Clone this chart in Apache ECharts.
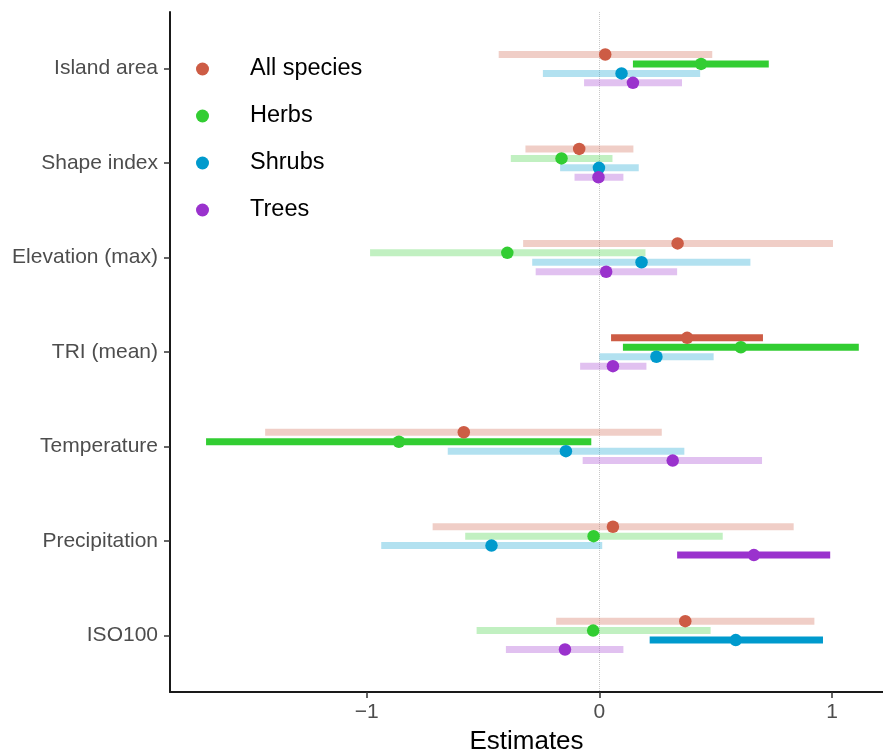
<!DOCTYPE html>
<html>
<head>
<meta charset="utf-8">
<script src="https://cdn.jsdelivr.net/npm/echarts@6/dist/echarts.min.js"></script>
<style>
  html, body { margin: 0; padding: 0; background: #fff; }
  #chart { width: 883px; height: 752px; }
</style>
</head>
<body>
<div id="chart"></div>
<script>
const categories = ['Island area', 'Shape index', 'Elevation (max)', 'TRI (mean)', 'Temperature', 'Precipitation', 'ISO100']
const groups = ['All species', 'Herbs', 'Shrubs', 'Trees']
const groupColors = ['#cd5c45', '#32cd32', '#009acd', '#9a32cd']
const xTicks = [-1, 0, 1]

// estimates and confidence limits, one array per group
const estAll = [0.025, -0.087, 0.336, 0.377, -0.583, 0.058, 0.369]
const lowAll = [-0.433, -0.318, -0.328, 0.050, -1.437, -0.717, -0.186]
const highAll = [0.485, 0.146, 1.004, 0.703, 0.268, 0.835, 0.924]
const sigAll = [0, 0, 0, 1, 0, 0, 0]

const estHerbs = [0.437, -0.163, -0.396, 0.608, -0.862, -0.025, -0.027]
const lowHerbs = [0.144, -0.381, -0.986, 0.101, -1.691, -0.577, -0.528]
const highHerbs = [0.728, 0.056, 0.198, 1.115, -0.035, 0.530, 0.478]
const sigHerbs = [1, 0, 0, 1, 1, 0, 0]

const estShrubs = [0.095, -0.002, 0.181, 0.245, -0.144, -0.464, 0.586]
const lowShrubs = [-0.243, -0.169, -0.289, 0.0, -0.652, -0.938, 0.216]
const highShrubs = [0.433, 0.169, 0.649, 0.491, 0.365, 0.012, 0.961]
const sigShrubs = [0, 0, 0, 0, 0, 0, 1]

const estTrees = [0.144, -0.004, 0.029, 0.058, 0.315, 0.664, -0.148]
const lowTrees = [-0.066, -0.107, -0.274, -0.083, -0.072, 0.334, -0.402]
const highTrees = [0.355, 0.103, 0.334, 0.202, 0.699, 0.992, 0.103]
const sigTrees = [0, 0, 0, 0, 0, 1, 0]

const est = [estAll, estHerbs, estShrubs, estTrees]
const low = [lowAll, lowHerbs, lowShrubs, lowTrees]
const high = [highAll, highHerbs, highShrubs, highTrees]
const sig = [sigAll, sigHerbs, sigShrubs, sigTrees]
const dodge = [-0.15, -0.05, 0.05, 0.15]

const font = 'Liberation Sans, Arial, sans-serif'

const chart = echarts.init(document.getElementById('chart'))

const series = []
groups.forEach((g, gi) => {
  const off = dodge[gi]
  const color = groupColors[gi]
  series.push({
    name: g,
    type: 'custom',
    z: 2,
    itemStyle: { color },
    encode: { x: [0, 1], y: 2 },
    data: categories.map((c, i) => [low[gi][i], high[gi][i], i + off, sig[gi][i]]),
    renderItem(params, api) {
      const y = api.value(2)
      const p1 = api.coord([api.value(0), y])
      const p2 = api.coord([api.value(1), y])
      const h = 7
      return {
        type: 'rect',
        shape: { x: p1[0], y: p1[1] - h / 2, width: p2[0] - p1[0], height: h },
        style: { fill: color, opacity: api.value(3) ? 1 : 0.3 }
      }
    }
  })
})
groups.forEach((g, gi) => {
  const s = {
    name: g,
    type: 'scatter',
    z: 3,
    symbol: 'circle',
    symbolSize: 12.5,
    itemStyle: { color: groupColors[gi], opacity: 1 },
    data: categories.map((c, i) => [est[gi][i], i + dodge[gi]])
  }
  if (gi === 0) {
    s.markLine = {
      silent: true,
      symbol: 'none',
      label: { show: false },
      z: 1,
      lineStyle: { color: '#c8c8c8', type: 'dotted', width: 1 },
      data: [{ xAxis: 0 }]
    }
  }
  series.push(s)
})

chart.setOption({
  animation: false,
  backgroundColor: '#fff',
  grid: { left: 170, right: 0, top: 12, bottom: 60, outerBoundsMode: 'none' },
  legend: {
    orient: 'vertical',
    left: 191,
    top: 52,
    itemWidth: 13,
    itemHeight: 13,
    itemGap: 23,
    icon: 'circle',
    data: groups,
    textStyle: { fontSize: 23.5, color: '#000', fontFamily: font, padding: [0, 0, 0, 36] }
  },
  xAxis: {
    type: 'value',
    min: -1.846,
    max: 1.219,
    name: 'Estimates',
    nameLocation: 'middle',
    nameGap: 37,
    nameTextStyle: { fontSize: 26, color: '#000', fontFamily: font },
    splitLine: { show: false },
    axisLine: { show: true, onZero: false, lineStyle: { color: '#1a1a1a', width: 2 } },
    axisTick: { show: true, customValues: xTicks, length: 6, lineStyle: { color: '#333', width: 1.5 } },
    axisLabel: {
      customValues: xTicks,
      margin: 10,
      fontSize: 21,
      color: '#4d4d4d',
      fontFamily: font,
      formatter: v => v < 0 ? '\u2212' + Math.abs(v) : String(v)
    }
  },
  yAxis: {
    type: 'value',
    min: -0.6,
    max: 6.6,
    inverse: true,
    splitLine: { show: false },
    axisLine: { show: true, onZero: false, lineStyle: { color: '#1a1a1a', width: 2 } },
    axisTick: { show: true, customValues: [0, 1, 2, 3, 4, 5, 6], length: 6, lineStyle: { color: '#333', width: 1.5 } },
    axisLabel: {
      customValues: [0, 1, 2, 3, 4, 5, 6],
      margin: 12,
      fontSize: 21,
      color: '#4d4d4d',
      fontFamily: font,
      formatter: v => categories[Math.round(v)] || ''
    }
  },
  series
})
</script>
</body>
</html>
